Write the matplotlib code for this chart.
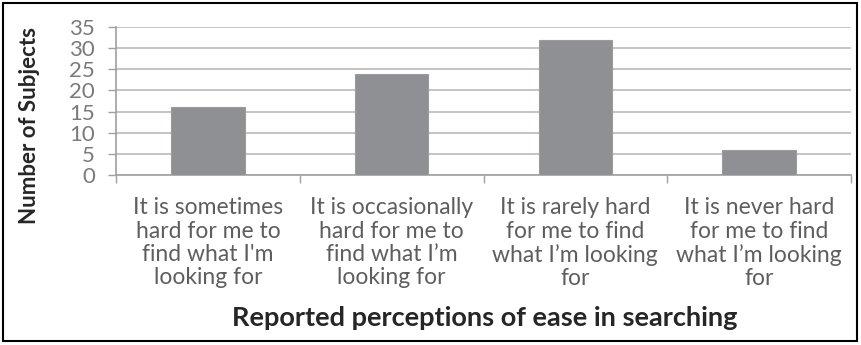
import matplotlib
matplotlib.use('Agg')
import matplotlib.pyplot as plt
from matplotlib.patches import Rectangle

plt.rcParams['font.family'] = ['Lato', 'DejaVu Sans']

# survey answers and how many subjects picked each
answers = [
    "It is sometimes\nhard for me to\nfind what I'm\nlooking for",
    "It is occasionally\nhard for me to\nfind what I\u2019m\nlooking for",
    "It is rarely hard\nfor me to find\nwhat I\u2019m looking\nfor",
    "It is never hard\nfor me to find\nwhat I\u2019m looking\nfor",
]
subjects = [16, 24, 32, 6]
yticks = [0, 5, 10, 15, 20, 25, 30, 35]

W, H = 861, 345
fig = plt.figure(figsize=(W / 100, H / 100), dpi=100)
ax = fig.add_axes([116 / W, 1 - 175 / H, (851 - 116) / W, (175 - 27) / H])

x = list(range(len(subjects)))
ax.bar(x, subjects, width=0.4, color='#8e9093', edgecolor='#9a9c9f', linewidth=0.8, zorder=3)

ax.set_xlim(-0.5, len(subjects) - 0.5)
ax.set_ylim(0, 35)
ax.set_yticks(yticks)
ax.yaxis.grid(True, color='#c4c4c4', linewidth=1.4, zorder=0)

# boundary ticks between categories, labels centred under bars
ax.set_xticks([i - 0.5 for i in range(len(subjects) + 1)])
ax.set_xticklabels([])
ax.set_xticks(x, minor=True)
ax.set_xticklabels(answers, minor=True, fontsize=16.5, color='#5e5e5e', linespacing=1.14)
ax.tick_params(axis='x', which='minor', length=0, pad=16)
ax.tick_params(axis='x', which='major', length=6, width=1, color='#a0a0a0')
ax.tick_params(axis='y', length=6, width=1, color='#a0a0a0', labelsize=16,
               labelcolor='#7a7a7a', pad=9)

for side in ['top', 'right']:
    ax.spines[side].set_visible(False)
for side in ['left', 'bottom']:
    ax.spines[side].set_color('#a0a0a0')
    ax.spines[side].set_linewidth(1.2)

fig.text(30 / W, 1 - 126 / H, 'Number of Subjects', rotation=90, ha='center', va='center',
         fontsize=16, fontweight='bold', color='#262626')
fig.text(485 / W, 1 - 318 / H, 'Reported perceptions of ease in searching', ha='center',
         va='center', fontsize=19.5, fontweight='bold', color='#262626')

fig.patches.append(Rectangle((3 / W, 1 - 341 / H), 854 / W, 338 / H, transform=fig.transFigure,
                             fill=False, edgecolor='black', linewidth=1.5))

fig.savefig('out.png', dpi=100)
